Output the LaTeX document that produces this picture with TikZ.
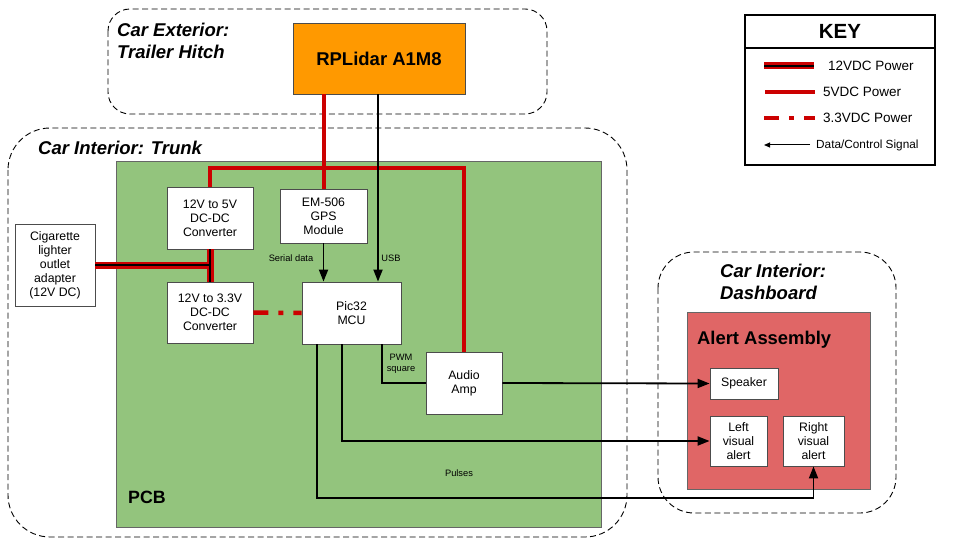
\documentclass[tikz,border=0pt]{standalone}
\usepackage{fontspec}
\setmainfont{Liberation Sans}
\usetikzlibrary{arrows.meta,calc}
\definecolor{pwr}{HTML}{CC0000}
\definecolor{lidar}{HTML}{FF9900}
\definecolor{pcb}{HTML}{93C47D}
\definecolor{alert}{HTML}{E06666}
\tikzset{
  box/.style={draw=black!70, line width=0.8pt, fill=white, align=center, inner sep=1pt, font=\fontsize{12.3}{14}\selectfont},
  region/.style={draw=black, dashed, dash pattern=on 6pt off 3.5pt, line width=0.9pt},
  title/.style={font=\fontsize{18.5}{21.5}\selectfont\bfseries\itshape, align=left, anchor=north west, inner sep=0pt},
  vfive/.style={draw=pwr, line width=4pt},
  vtwelveA/.style={draw=pwr, line width=7pt},
  vtwelveB/.style={draw=black, line width=2pt},
  vthree/.style={draw=pwr, line width=4.5pt, dash pattern=on 15pt off 10pt on 5pt off 10pt},
  sig/.style={draw=black, line width=1.8pt, -{Triangle[length=12pt,width=9pt]}},
  sigline/.style={draw=black, line width=1.8pt},
  small/.style={font=\fontsize{9.3}{11}\selectfont, align=center, inner sep=0pt},
  keytext/.style={anchor=west, inner sep=0pt, font=\fontsize{13.5}{15}\selectfont},
}
\begin{document}
\begin{tikzpicture}[x=1pt,y=-1pt]
\useasboundingbox (0,0) rectangle (960,540);
\fill[white] (0,0) rectangle (960,540);
% regions
\draw[region, rounded corners=22pt] (108,9) rectangle (547,114);
\draw[region, rounded corners=42pt] (8,128) rectangle (627,537);
\draw[region, rounded corners=36pt] (658,252) rectangle (896,513);
\node[title] (tExt) at (117,23) {Car Exterior:\\Trailer Hitch};
\node[title] (tTrunk) at (38,141) {Car Interior: Trunk};
\node[title] (tDash) at (720,264) {Car Interior:\\Dashboard};
% PCB
\draw[draw=black!60, line width=0.8pt, fill=pcb] (116,161) rectangle (601,527);
\node[font=\fontsize{17.8}{20}\selectfont\bfseries, anchor=west, inner sep=0pt] (tPCB) at (128,497) {PCB};
% Alert assembly
\draw[draw=black!60, line width=0.8pt, fill=alert] (687,312) rectangle (870,489);
\node[font=\fontsize{18.4}{21}\selectfont\bfseries, anchor=west, inner sep=0pt] (tAlert) at (697,340) {Alert Assembly};
% nodes
\node[box, fill=lidar, minimum width=172pt, minimum height=71pt, font=\fontsize{18.5}{22}\selectfont\bfseries] (lidar) at (379,58.5) {RPLidar A1M8};
\node[box, minimum width=86pt, minimum height=62pt] (c5) at (210,218) {12V to 5V\\DC-DC\\Converter};
\node[box, minimum width=87pt, minimum height=54pt] (gps) at (323.5,216) {EM-506\\GPS\\Module};
\node[box, minimum width=80pt, minimum height=82pt] (cig) at (55,265) {Cigarette\\lighter\\outlet\\adapter\\(12V DC)};
\node[box, minimum width=86pt, minimum height=61pt] (c33) at (210,312.5) {12V to 3.3V\\DC-DC\\Converter};
\node[box, minimum width=99pt, minimum height=62pt] (pic) at (351.5,313) {Pic32\\MCU};
\node[box, minimum width=76pt, minimum height=62pt] (amp) at (464,383) {Audio\\Amp};
\node[box, minimum width=68pt, minimum height=31pt] (spk) at (744,383.5) {Speaker};
\node[box, minimum width=57pt, minimum height=50pt] (lva) at (738.5,441) {Left\\visual\\alert};
\node[box, minimum width=61pt, minimum height=50pt] (rva) at (813.5,441) {Right\\visual\\alert};
% 5V power
\coordinate (b1) at (210,168);
\coordinate (b2) at (464,168);
\draw[vfive] (lidar.south -| 324,0) -- (gps.north -| 324,0);
\draw[vfive, line join=miter] (c5.north) -- (b1) -- (b2) -- (amp.north);
% 12V power
\coordinate (j12) at (210,265);
\draw[vtwelveA] (cig.east |- j12) -- (j12);
\draw[vtwelveA] (c5.south) -- (c33.north);
\draw[vtwelveB] (cig.east |- j12) -- (j12);
\draw[vtwelveB] (c5.south) -- (c33.north);
% 3.3V
\draw[vthree] (c33.east) -- (pic.west);
% signals
\draw[sig] (lidar.south -| 378,0) -- (pic.north -| 378,0);
\draw[sig] (gps.south) -- (pic.north -| gps.south);
\draw[sigline] (pic.south -| 382,0) |- (amp.west);
\draw[sig] (amp.east) -- (spk.west);
\draw[sig] (pic.south -| 342,0) |- (lva.west);
\coordinate (rb) at (813.5,498);
\draw[sig] (pic.south -| 317,0) |- (rb) -- (rva.south);
% signal labels
\node[small] (lSer) at (291,258) {Serial data};
\node[small] (lUSB) at (391,258) {USB};
\node[small] (lPWM) at (401,364) {PWM\\square};
\node[small] (lPul) at (459,473) {Pulses};
% KEY
\draw[line width=2pt] (745,15) rectangle (935,165);
\draw[line width=1.5pt] (745,48) -- (935,48);
\node[font=\fontsize{20.5}{24}\selectfont\bfseries] (kTitle) at (840,31.5) {KEY};
\draw[vtwelveA] (764,66) -- (814,66);
\draw[vtwelveB] (764,66) -- (814,66);
\node[keytext] (k12) at (828,66) {12VDC Power};
\draw[vfive] (765,92) -- (815,92);
\node[keytext] (k5) at (823,92) {5VDC Power};
\draw[pwr, line width=4.5pt, dash pattern=on 15pt off 10pt on 5pt off 10pt] (764,118) -- (815,118);
\node[keytext] (k33) at (823,118) {3.3VDC Power};
\draw[line width=1pt, -{Triangle[length=6pt,width=5pt]}] (810,145) -- (764,145);
\node[anchor=west, inner sep=0pt, font=\fontsize{11.8}{13}\selectfont] (kd) at (816,145) {Data/Control Signal};
\end{tikzpicture}
\end{document}
